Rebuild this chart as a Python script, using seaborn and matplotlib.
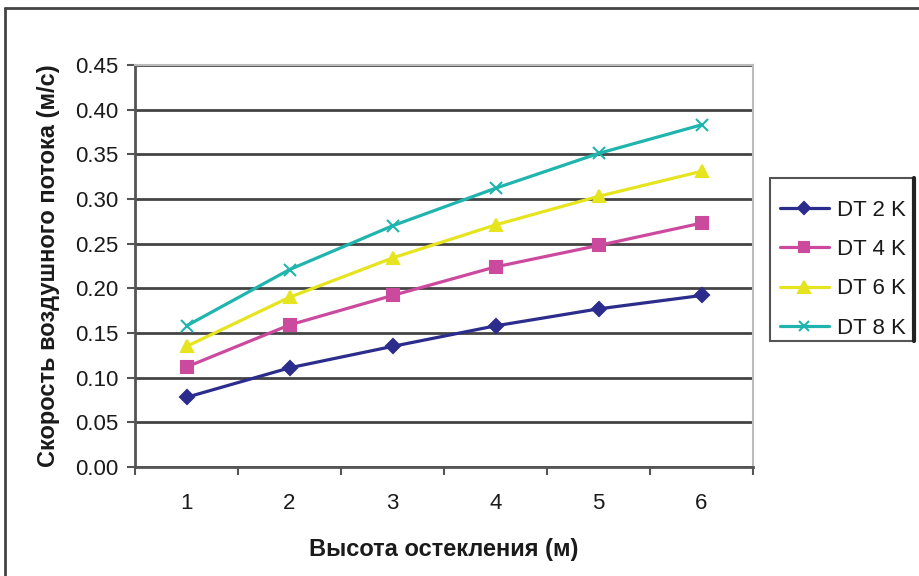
import matplotlib
matplotlib.use("Agg")
import matplotlib.pyplot as plt
import seaborn as sns
import pandas as pd
from matplotlib.lines import Line2D
from matplotlib.patches import Rectangle
from matplotlib.ticker import FixedLocator, NullFormatter

heights = [1, 2, 3, 4, 5, 6]
dt2 = [0.078, 0.111, 0.135, 0.158, 0.177, 0.192]
dt4 = [0.112, 0.159, 0.192, 0.224, 0.248, 0.273]
dt6 = [0.135, 0.190, 0.234, 0.271, 0.303, 0.331]
dt8 = [0.158, 0.221, 0.270, 0.312, 0.351, 0.383]
series_names = ["DT 2 K", "DT 4 K", "DT 6 K", "DT 8 K"]
y_ticks = [0.00, 0.05, 0.10, 0.15, 0.20, 0.25, 0.30, 0.35, 0.40, 0.45]
x_label = "Высота остекления (м)"
y_label = "Скорость воздушного потока (м/с)"

sns.set_style("white")
plt.rcParams["font.family"] = ["Liberation Sans", "DejaVu Sans"]

W, H = 919, 576
fig = plt.figure(figsize=(W / 100, H / 100), dpi=100)
ax = fig.add_axes([135 / W, 1 - 467 / H, 618 / W, 402 / H])

palette = {"DT 2 K": "#2B2C8C", "DT 4 K": "#CC4A9E", "DT 6 K": "#E6E41E", "DT 8 K": "#1FB5AE"}
markers = {"DT 2 K": "D", "DT 4 K": "s", "DT 6 K": "^", "DT 8 K": "x"}
sizes_m = {"DT 2 K": 7, "DT 4 K": 8, "DT 6 K": 9, "DT 8 K": 8}

for name, vals in zip(series_names, [dt2, dt4, dt6, dt8]):
    d = pd.DataFrame({"h": heights, "v": vals})
    sns.lineplot(data=d, x="h", y="v", color=palette[name], marker=markers[name],
                 linewidth=2.3, markersize=sizes_m[name], markeredgewidth=1.5,
                 markeredgecolor=palette[name], ax=ax, zorder=3)

ax.set_xlim(0.5, 6.5)
ax.set_ylim(0, 0.45)
ax.set_yticks(y_ticks)
ax.set_yticklabels([f"{t:.2f}" for t in y_ticks])
ax.set_xticks(heights)
ax.set_xticklabels([str(h) for h in heights])
ax.xaxis.set_minor_locator(FixedLocator([0.5, 1.5, 2.5, 3.5, 4.5, 5.5, 6.5]))
ax.xaxis.set_minor_formatter(NullFormatter())
ax.tick_params(axis="x", which="major", length=0, pad=19, labelsize=16)
ax.tick_params(axis="x", which="minor", length=6, width=1.5, color="#555", direction="out", bottom=True)
ax.tick_params(axis="y", which="major", length=6, width=1.5, color="#555", direction="out", left=True,
               labelsize=16, pad=6)
for lbl in ax.get_yticklabels() + ax.get_xticklabels():
    lbl.set_color("#1a1a1a")

ax.grid(axis="y", color="#444444", linewidth=2.0, zorder=1)
ax.set_axisbelow(True)
for side in ["left", "bottom"]:
    ax.spines[side].set_color("#555555")
    ax.spines[side].set_linewidth(2.0)
for side in ["top", "right"]:
    ax.spines[side].set_color("#bbbbbb")
    ax.spines[side].set_linewidth(1.5)

ax.set_xlabel(x_label, fontsize=17, fontweight="bold", labelpad=17, color="#1a1a1a")
ax.set_ylabel(y_label, fontsize=17, fontweight="bold", labelpad=11, color="#1a1a1a")

# legend frame drawn explicitly
x0, y0, x1, y1 = 770, 178, 914, 341
fig.add_artist(Rectangle((x0 / W, 1 - y1 / H), (x1 - x0) / W, (y1 - y0) / H,
                         transform=fig.transFigure, facecolor="white",
                         edgecolor="#555555", linewidth=1.5, zorder=2))
fig.add_artist(Line2D([x1 / W, x1 / W], [1 - y1 / H, 1 - y0 / H], transform=fig.transFigure,
                      color="#222222", linewidth=3.0, zorder=3))

handles = [Line2D([0], [0], color=palette[n], marker=markers[n], linewidth=2.3,
                  markersize=sizes_m[n] - 1, markeredgecolor=palette[n], markeredgewidth=1.5)
           for n in series_names]
leg = fig.legend(handles, series_names, loc="upper left",
                 bbox_to_anchor=(780 / W, 1 - 200 / H), fontsize=16,
                 frameon=False, handlelength=2.2, labelspacing=0.82,
                 borderpad=0.0, handletextpad=0.36, borderaxespad=0)
leg.set_zorder(4)
for t in leg.get_texts():
    t.set_color("#1a1a1a")

fig.add_artist(Line2D([5 / W, 1.0], [1 - 8 / H, 1 - 8 / H], transform=fig.transFigure,
                      color="#444444", linewidth=2.0))
fig.add_artist(Line2D([5 / W, 5 / W], [0, 1 - 8 / H], transform=fig.transFigure,
                      color="#444444", linewidth=2.0))

fig.savefig("out.png", dpi=100, facecolor="white")
